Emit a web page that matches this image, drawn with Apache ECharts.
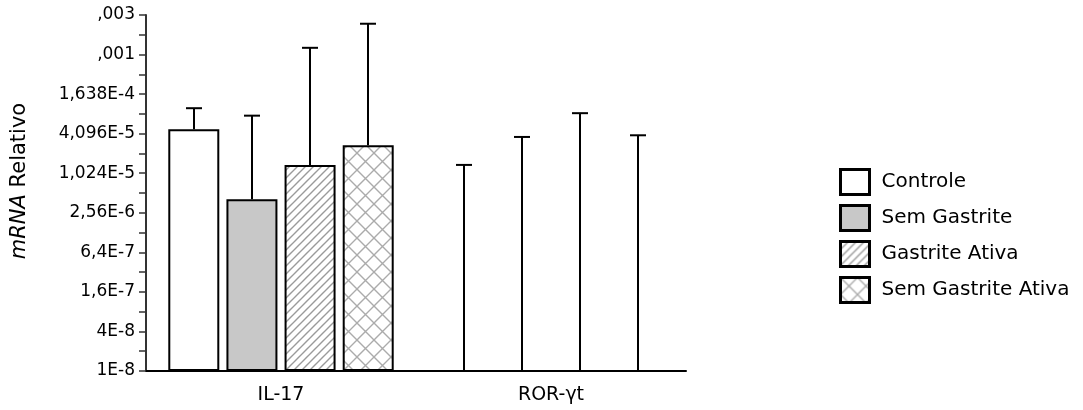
<!DOCTYPE html>
<html>
<head>
<meta charset="utf-8">
<script src="https://cdn.jsdelivr.net/npm/echarts@6/dist/echarts.min.js"></script>
<style>
  html, body { margin: 0; padding: 0; background: #fff; }
  #chart { width: 1083px; height: 410px; }
</style>
</head>
<body>
<div id="chart"></div>
<script>
// Genes on the x axis
const categories = ['IL-17', 'ROR-\u03b3t'];
// Group names
const groups = ['Controle', 'Sem Gastrite', 'Gastrite Ativa', 'Sem Gastrite Ativa'];
// Mean relative mRNA per group, [IL-17, ROR-γt] (ROR-γt below detection)
const controle = [4.8e-5, null];
const semGastrite = [4.1e-6, null];
const gastriteAtiva = [1.37e-5, null];
const semGastriteAtiva = [2.72e-5, null];
// Upper end of the error bar per group, [IL-17, ROR-γt]
const controleUpper = [1.0e-4, 1.37e-5];
const semGastriteUpper = [7.7e-5, 3.65e-5];
const gastriteAtivaUpper = [8.3e-4, 8.4e-5];
const semGastriteAtivaUpper = [1.93e-3, 3.87e-5];
// Tick labels of the base-4 logarithmic scale, from 1E-8 upward
const tickLabels = ['1E-8', '4E-8', '1,6E-7', '6,4E-7', '2,56E-6', '1,024E-5', '4,096E-5', '1,638E-4', ',001', ',003'];

const means = [controle, semGastrite, gastriteAtiva, semGastriteAtiva];
const uppers = [controleUpper, semGastriteUpper, gastriteAtivaUpper, semGastriteAtivaUpper];

// Log scale: the axis counts powers of 4 above 1E-8
const LOG_BASE = 4, LOG_FLOOR = 1e-8;
const toAxis = v => (v == null ? null : Math.log(v / LOG_FLOOR) / Math.log(LOG_BASE));

// Fill patterns
function hatchPattern() {
  const s = 8, c = document.createElement('canvas');
  c.width = s; c.height = s;
  const g = c.getContext('2d');
  g.fillStyle = '#fff'; g.fillRect(0, 0, s, s);
  g.strokeStyle = '#9a9a9a'; g.lineWidth = 1.4;
  g.beginPath();
  g.moveTo(-1, s + 1); g.lineTo(s + 1, -1);
  g.moveTo(-1, 1); g.lineTo(1, -1);
  g.moveTo(s - 1, s + 1); g.lineTo(s + 1, s - 1);
  g.stroke();
  return c;
}
function crossPattern() {
  const s = 17, c = document.createElement('canvas');
  c.width = s; c.height = s;
  const g = c.getContext('2d');
  g.fillStyle = '#fff'; g.fillRect(0, 0, s, s);
  g.strokeStyle = '#ababab'; g.lineWidth = 1.4;
  g.beginPath();
  g.moveTo(0, 0); g.lineTo(s, s);
  g.moveTo(0, s); g.lineTo(s, 0);
  g.stroke();
  return c;
}
const fills = [
  '#ffffff',
  '#c8c8c8',
  { image: hatchPattern(), repeat: 'repeat' },
  { image: crossPattern(), repeat: 'repeat' }
];

const BAR_W = 51, BAR_GAP = 0.14;
const FONT = '"DejaVu Sans", "Liberation Sans", sans-serif';

const barSeries = groups.map((name, i) => ({
  name,
  type: 'bar',
  barWidth: BAR_W,
  barGap: (BAR_GAP * 100) + '%',
  data: means[i].map(toAxis),
  itemStyle: { color: fills[i], borderColor: '#000', borderWidth: 2 },
  z: 3
}));

const errorSeries = groups.map((name, i) => ({
  name: name + ' (erro)',
  type: 'custom',
  z: 2,
  data: categories.map((c, k) => [k, means[i][k] == null ? 0 : toAxis(means[i][k]), toAxis(uppers[i][k])]),
  renderItem(params, api) {
    const offset = (i - 1.5) * BAR_W * (1 + BAR_GAP);
    const base = api.coord([api.value(0), api.value(1)]);
    const top = api.coord([api.value(0), api.value(2)]);
    const x = Math.round(base[0] + offset);
    const st = { stroke: '#000', lineWidth: 2 };
    return {
      type: 'group',
      children: [
        { type: 'line', shape: { x1: x, y1: base[1], x2: x, y2: top[1] }, style: st },
        { type: 'line', shape: { x1: x - 8, y1: top[1], x2: x + 8, y2: top[1] }, style: st }
      ]
    };
  }
}));

const chart = echarts.init(document.getElementById('chart'), null, { renderer: 'canvas' });
chart.setOption({
  animation: false,
  backgroundColor: '#fff',
  textStyle: { fontFamily: FONT },
  grid: { left: 146, right: 397, top: 15, bottom: 39 },
  xAxis: {
    type: 'category',
    data: categories,
    axisLine: { lineStyle: { color: '#000', width: 2 } },
    axisTick: { alignWithLabel: true, length: 4, lineStyle: { color: '#000' } },
    axisLabel: { color: '#000', fontSize: 19, margin: 15, fontFamily: FONT }
  },
  yAxis: {
    type: 'value',
    min: 0,
    max: tickLabels.length - 1,
    interval: 0.5,
    splitLine: { show: false },
    axisLine: { show: true, lineStyle: { color: '#333', width: 2 } },
    axisTick: { show: true, length: 7, lineStyle: { color: '#333', width: 1.5 } },
    axisLabel: {
      color: '#000', fontSize: 17, margin: 11, fontFamily: FONT,
      formatter: v => (Number.isInteger(v) ? tickLabels[v] : '')
    }
  },
  legend: {
    data: groups,
    orient: 'vertical',
    left: 839,
    top: 168,
    padding: 0,
    itemWidth: 29,
    itemHeight: 25,
    itemGap: 8,
    icon: 'rect',
    itemStyle: { borderColor: '#000', borderWidth: 3 },
    textStyle: { color: '#000', fontSize: 20, fontFamily: FONT, padding: [0, 0, 0, 7] }
  },
  graphic: [{
    type: 'text',
    x: 20,
    y: 181,
    rotation: Math.PI / 2,
    style: {
      text: '{i|mRNA} Relativo',
      align: 'center',
      verticalAlign: 'middle',
      fill: '#000',
      font: '21px ' + FONT,
      rich: { i: { fontStyle: 'italic', fontSize: 21, fontFamily: FONT, fill: '#000' } }
    }
  }],
  series: [...barSeries, ...errorSeries]
});
</script>
</body>
</html>
